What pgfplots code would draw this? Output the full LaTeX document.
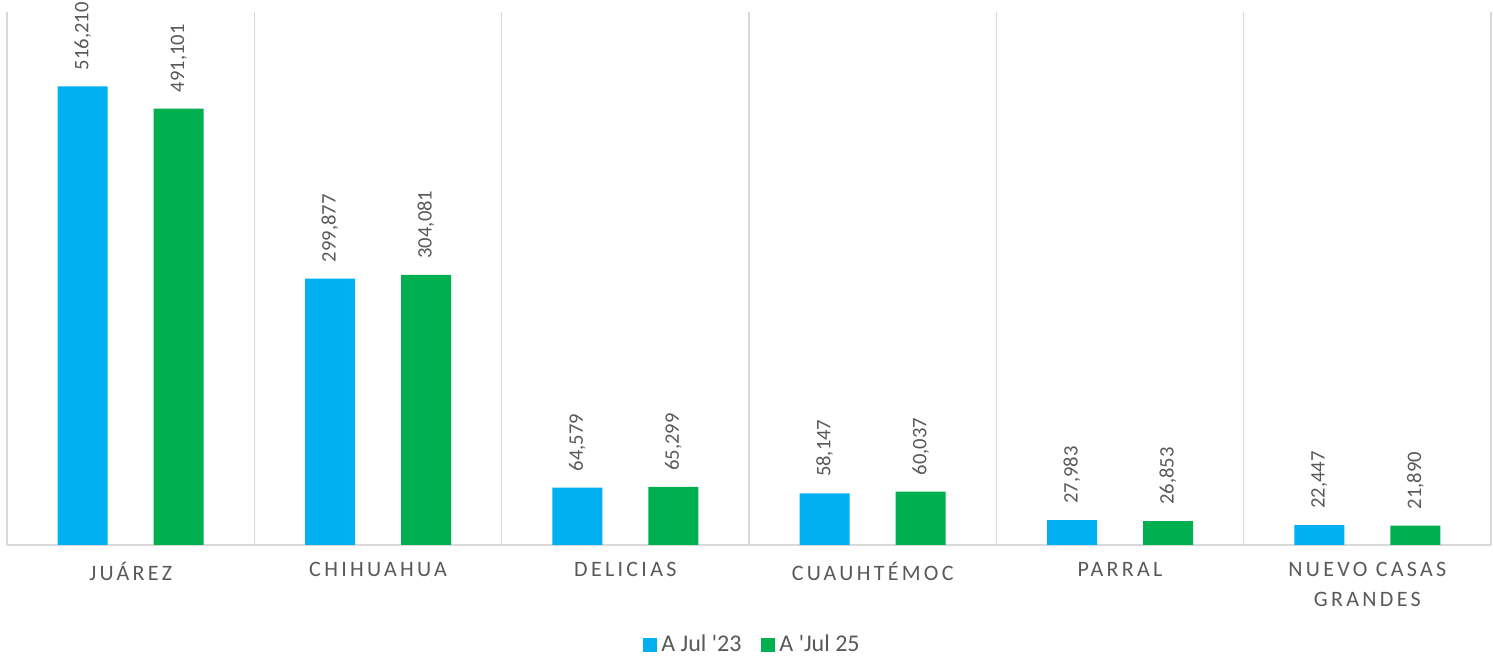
\documentclass[border=0pt]{standalone}
\usepackage{fontspec}
\setmainfont{Carlito}
\newfontfamily\catfont[LetterSpace=15]{Carlito}
\usepackage{pgfplots}
\pgfplotsset{compat=1.18}
\definecolor{cblue}{HTML}{00B0F0}
\definecolor{cgreen}{HTML}{00B050}
\definecolor{txtgray}{HTML}{595959}
\definecolor{gridgray}{HTML}{D9D9D9}

\begin{document}
\begin{tikzpicture}
  \begin{axis}[
      scale only axis,
      width=742pt, height=266.5pt,
      xmin=-0.5, xmax=5.5,
      ymin=0, ymax=600000,
      axis y line=none,
      axis x line*=bottom,
      x axis line style={gridgray, line width=1pt, -},
      xtick={0,...,5},
      xticklabels={JUÁREZ, CHIHUAHUA, DELICIAS, CUAUHTÉMOC, PARRAL, {NUEVO CASAS\\GRANDES}},
      xticklabel style={font=\catfont\fontsize{11}{15}\selectfont, text=txtgray, align=center, yshift=-5pt},
      major tick length=0pt,
      minor xtick={-0.5,0.5,...,5.5},
      minor tick length=0pt,
      xminorgrids,
      minor grid style={gridgray, line width=0.8pt},
      /pgf/number format/.cd, fixed, precision=0, 1000 sep={,}, assume math mode=true,
      /pgfplots/.cd,
      nodes near coords,
      nodes near coords style={rotate=90, anchor=west, inner sep=0pt, xshift=8pt,
        font=\fontsize{10.3}{12}\selectfont, text=txtgray},
      legend style={at={(0.503,-0.1876)}, anchor=center, draw=none, legend columns=2,
        font=\fontsize{12}{14}\selectfont, text=txtgray,
        /tikz/every even column/.append style={column sep=8pt}},
      legend image code/.code={\fill[#1] (-2pt,-3.5pt) rectangle (5pt,3.5pt);},
    ]
    \addplot[ybar, bar width=25pt, bar shift=-24pt, fill=cblue, draw=none,
      every node near coord/.append style={yshift=24pt}]
    coordinates {
      (0,516210)
      (1,299877)
      (2,64579)
      (3,58147)
      (4,27983)
      (5,22447)
    };
    \addplot[ybar, bar width=25pt, bar shift=24pt, fill=cgreen, draw=none,
      every node near coord/.append style={yshift=-24pt}]
    coordinates {
      (0,491101)
      (1,304081)
      (2,65299)
      (3,60037)
      (4,26853)
      (5,21890)
    };
    \legend{A Jul \textquotesingle23, A \textquotesingle Jul 25}
  \end{axis}
  \pgfresetboundingbox
  \path[use as bounding box] ([xshift=-3.5pt,yshift=-57pt]current axis.south west)
    rectangle ([xshift=1pt,yshift=6pt]current axis.north east);
\end{tikzpicture}
\end{document}
